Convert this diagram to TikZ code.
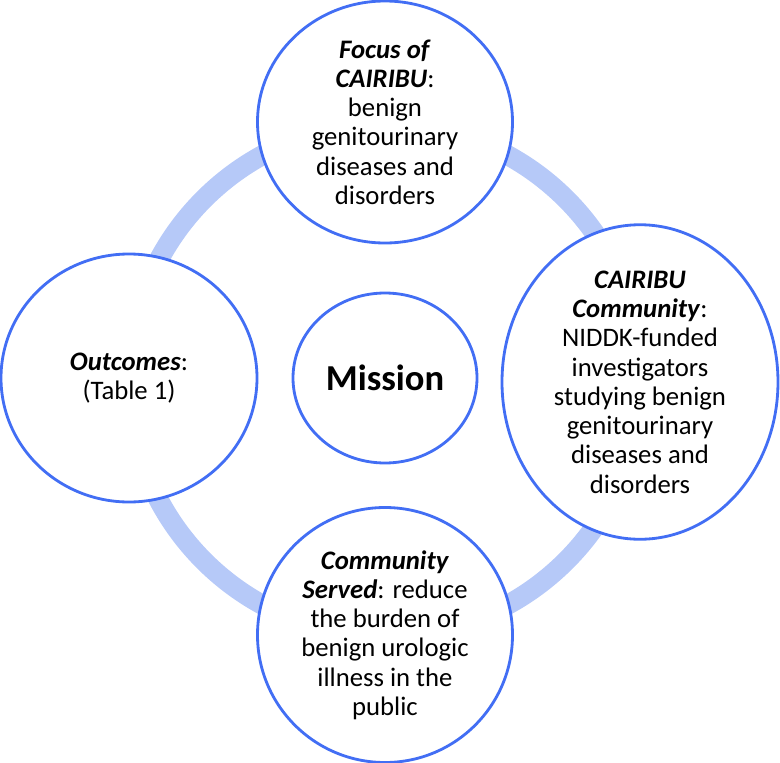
\documentclass[tikz,border=0pt]{standalone}
\usepackage{fontspec}
\setmainfont{Carlito}
\usepackage{tikz}
\usetikzlibrary{shapes}
\definecolor{rimblue}{RGB}{66,110,244}
\definecolor{ringblue}{RGB}{182,201,248}
\tikzset{
  bubble/.style={
    draw=rimblue, ellipse, line width=2pt,
    fill=white, inner sep=0pt, align=center,
    font=\fontsize{19}{20.8}\selectfont
  },
  hub/.style={
    draw=rimblue, ellipse, line width=2pt,
    fill=white, inner sep=0pt, align=center,
    font=\fontsize{26}{30}\selectfont\bfseries
  },
  ringline/.style={line width=0.5cm, ringblue},
}
\newcommand{\hd}[1]{\textbf{\textit{#1}}}

\begin{document}
\begin{tikzpicture}
    \useasboundingbox (0,0) rectangle (19.5,-19.075);
    \coordinate (C) at (9.625,-9.5);
    \draw[ringline] (C) circle (6.4cm);
    \node[hub, minimum width=4.6cm, minimum height=4.25cm] (mission) at (9.625,-9.45) {Mission};
    \node[bubble, minimum width=6.375cm, minimum height=6.05cm] (focus) at (9.625,-3.05)
      {\hd{Focus of}\\ \hd{CAIRIBU}:\\ benign\\ genitourinary\\ diseases and\\ disorders};
    \node[bubble, minimum width=6.9cm, minimum height=6.575cm] (community) at (16.0,-9.55)
      {\hd{CAIRIBU}\\ \hd{Community}:\\ NIDDK-funded\\ investigators\\ studying benign\\ genitourinary\\ diseases and\\ disorders};
    \node[bubble, minimum width=6.4cm, minimum height=6.2cm] (outcomes) at (3.225,-9.45)
      {\hd{Outcomes}:\\ (Table 1)};
    \node[bubble, minimum width=6.375cm, minimum height=6.375cm] (served) at (9.625,-15.875)
      {\hd{Community}\\ \hd{Served}: reduce\\ the burden of\\ benign urologic\\ illness in the\\ public};
  \end{tikzpicture}
\end{document}
